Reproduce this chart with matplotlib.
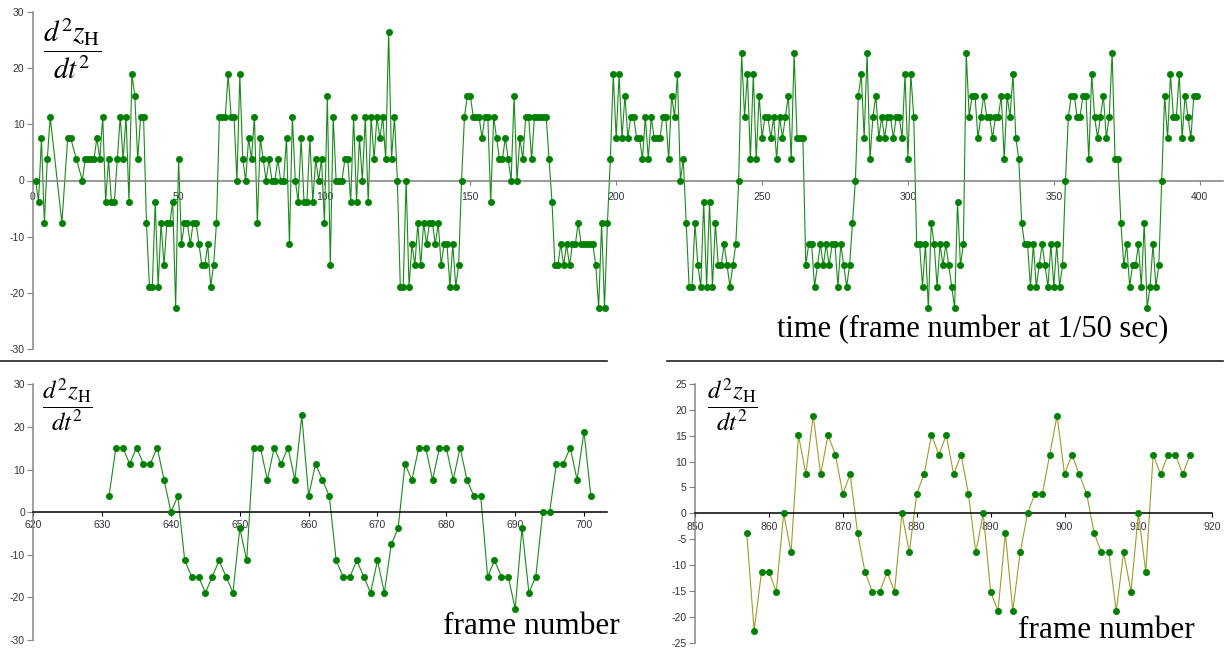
import matplotlib.pyplot as plt
import numpy as np
from matplotlib.lines import Line2D

plt.rcParams['mathtext.fontset'] = 'stix'
plt.rcParams['axes.unicode_minus'] = False

# Acceleration is quantised: every sample is a whole number of steps
STEP = 3.78

# Top trace, frames 1..399 (a few early frames missing)
top_frame = [1, 2, 3, 4, 5, 6, 10, 12, 13, 15] + list(range(17, 400))
top_steps = [0, -1, 2, -2, 1, 3, -2, 2, 2, 1,
             0, 1, 1, 1, 1, 2, 1, 3, -1, 1,
             -1, -1, 1, 3, 1, 3, -1, 5, 4, 1,
             3, 3, -2, -5, -5, -1, -5, -2, -4, -2,
             -2, -1, -6, 1, -3, -2, -2, -3, -2, -2,
             -3, -4, -4, -3, -5, -4, -2, 3, 3, 3,
             5, 3, 3, 0, 5, 1, 0, 2, 1, 3,
             -2, 2, 1, 0, 1, 0, 0, 1, 0, 0,
             2, -3, 3, 0, -1, 2, -1, -1, 2, -1,
             1, 0, 1, -2, 4, -4, 3, 0, 0, 0,
             1, 1, -1, 3, -1, 2, 0, 3, -1, 3,
             1, 3, 2, 3, 1, 7, 1, 3, 0, -5,
             -5, 0, -5, -3, -4, -2, -4, -2, -3, -2,
             -2, -3, -2, -4, -3, -3, -5, -3, -5, -4,
             0, 3, 4, 4, 3, 3, 3, 2, 3, 3,
             -1, 3, 2, 1, 1, 2, 1, 0, 4, 0,
             2, 1, 3, 3, 1, 3, 3, 3, 3, 3,
             1, -1, -4, -4, -3, -4, -3, -4, -3, -3,
             -2, -3, -3, -3, -3, -3, -4, -6, -2, -6,
             -2, 1, 5, 2, 5, 2, 4, 2, 3, 3,
             2, 2, 1, 3, 1, 3, 2, 2, 2, 3,
             3, 1, 4, 3, 5, 0, 1, -2, -5, -5,
             -2, -4, -5, -1, -5, -1, -5, -2, -4, -4,
             -3, -4, -5, -4, -3, 0, 6, 3, 5, 1,
             5, 1, 4, 2, 3, 3, 2, 3, 1, 3,
             2, 3, 4, 1, 6, 2, 2, 2, -4, -3,
             -3, -5, -4, -3, -4, -3, -4, -3, -3, -5,
             -3, -4, -5, -4, -2, 0, 4, 5, 2, 6,
             1, 3, 4, 2, 3, 2, 3, 3, 2, 3,
             3, 2, 5, 1, 5, 3, -3, -3, -5, -3,
             -6, -2, -3, -5, -3, -4, -3, -4, -5, -6,
             -1, -4, -3, 6, 3, 4, 4, 2, 3, 4,
             3, 3, 2, 3, 3, 4, 1, 4, 3, 5,
             2, 1, -2, -3, -3, -5, -3, -5, -4, -3,
             -4, -5, -3, -5, -3, -5, -4, 0, 3, 4,
             4, 3, 3, 4, 4, 1, 5, 3, 2, 3,
             4, 2, 3, 6, 1, 1, -2, -4, -3, -5,
             -4, -4, -3, -5, -2, -6, -5, -3, -5, -4,
             0, 4, 2, 5, 3, 3, 5, 2, 4, 3,
             2, 4, 4]

# Lower left trace, frames 631..701
left_frame = list(range(631, 702))
left_steps = [1, 4, 4, 3, 4, 3, 3, 4, 2, 0,
              1, -3, -4, -4, -5, -4, -3, -4, -5, -1,
              -3, 4, 4, 2, 4, 3, 4, 2, 6, 1,
              3, 2, 1, -3, -4, -4, -3, -4, -5, -3,
              -5, -2, -1, 3, 2, 4, 4, 2, 4, 4,
              2, 4, 2, 1, 1, -4, -3, -4, -4, -6,
              -1, -5, -4, 0, 0, 3, 3, 4, 2, 5, 1]

# Lower right trace, frames 857..917
right_frame = list(range(857, 918))
right_steps = [-1, -6, -3, -3, -4, 0, -2, 4, 2, 5,
               2, 4, 3, 1, 2, -1, -3, -4, -4, -3,
               -4, 0, -2, 1, 2, 4, 3, 4, 2, 3,
               1, -2, 0, -4, -5, -1, -5, -2, 0, 1,
               1, 3, 5, 2, 3, 2, 1, -1, -2, -2,
               -5, -2, -4, 0, -3, 3, 2, 3, 3, 2, 3]

W, H = 1231, 648
fig = plt.figure(figsize=(W / 100, H / 100), dpi=100)


def px_axes(x0, y0, x1, y1):
    # axes from pixel corners (top-left origin)
    return fig.add_axes([x0 / W, 1 - y1 / H, (x1 - x0) / W, (y1 - y0) / H])


def style(ax, xlim, ylim, xticks, yticks, zero_color, xpad):
    ax.set_xlim(*xlim)
    ax.set_ylim(*ylim)
    ax.set_xticks(xticks)
    ax.set_yticks(yticks)
    for s in ('top', 'right'):
        ax.spines[s].set_visible(False)
    ax.spines['bottom'].set_position(('data', 0))
    ax.spines['bottom'].set_color(zero_color)
    ax.spines['bottom'].set_linewidth(1.1)
    ax.spines['left'].set_color('#868686')
    ax.spines['left'].set_linewidth(1.1)
    ax.tick_params(axis='y', direction='out', length=4, width=0.8,
                   color='#868686', labelsize=7.5, labelcolor='#333340', pad=2)
    ax.tick_params(axis='x', direction='out', length=3, width=0.8,
                   color=zero_color, labelsize=7.5, labelcolor='#333340', pad=xpad)
    for lab in ax.get_xticklabels() + ax.get_yticklabels():
        lab.set_family('Liberation Sans')
    ax.patch.set_alpha(0)


def trace(ax, frames, steps, line_color):
    vals = np.array(steps) * STEP
    ax.plot(frames, vals, '-', color=line_color, lw=0.8, zorder=2)
    ax.plot(frames, vals, 'o', color='#008000', ms=4.5, mec='#008000',
            mew=0.5, zorder=3)


ylab = r'$\dfrac{d^2 z_{\mathrm{H}}}{dt^2}$'
serif = 'Liberation Serif'

# top: full run
ax1 = px_axes(32.7, 12, 1223, 349)
trace(ax1, top_frame, top_steps, '#1a8a1a')
style(ax1, (0, 408), (-30, 30), range(0, 401, 50), range(-30, 31, 10), '#7f7f7f', 5)
fig.text(72 / W, 1 - 49 / H, ylab, fontsize=21, ha='center', va='center')
fig.text(1168 / W, 1 - 330 / H, 'time (frame number at 1/50 sec)',
         family=serif, fontsize=22, ha='right', va='center')

# bottom left
ax2 = px_axes(33.3, 384.3, 606.7, 640)
trace(ax2, left_frame, left_steps, '#1a8a1a')
style(ax2, (620, 703.3), (-30, 30), range(620, 701, 10), range(-30, 31, 10), '#000000', 3)
fig.text(67 / W, 1 - 405 / H, ylab, fontsize=18, ha='center', va='center')
fig.text(620 / W, 1 - 626 / H, 'frame number',
         family=serif, fontsize=22.5, ha='right', va='center')

# bottom right
ax3 = px_axes(695, 384, 1212.3, 642.7)
trace(ax3, right_frame, right_steps, '#a09a2a')
style(ax3, (850, 920), (-25, 25), range(850, 921, 10), range(-25, 26, 5), '#000000', 3)
fig.text(732 / W, 1 - 405 / H, ylab, fontsize=18, ha='center', va='center')
fig.text(1195 / W, 1 - 630 / H, 'frame number',
         family=serif, fontsize=22.5, ha='right', va='center')

# separators under the top chart
fig.add_artist(Line2D([0, 607 / W], [1 - 361 / H] * 2, color='#222222', lw=1.2))
fig.add_artist(Line2D([667 / W, 1223 / W], [1 - 361 / H] * 2, color='#222222', lw=1.2))

fig.savefig('out.png', dpi=100)
